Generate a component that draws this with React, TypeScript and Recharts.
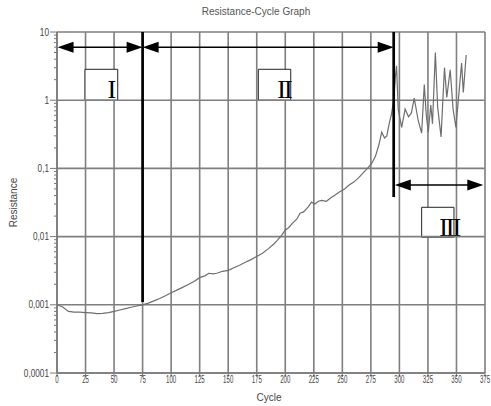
import React from 'react';
import { LineChart, Line, XAxis, YAxis, CartesianGrid, ReferenceLine, ReferenceArea } from 'recharts';

const cycles = [0, 5, 10, 15, 20, 25, 30, 35, 40, 45, 50, 55, 60, 65, 70, 75, 80, 85, 90, 95, 100, 105, 110, 115, 120, 125, 130, 133, 137, 140, 145, 150, 155, 160, 165, 170, 175, 180, 185, 190, 193, 197, 200, 203, 206, 210, 213, 216, 220, 223, 226, 229, 232, 236, 240, 244, 248, 252, 256, 260, 264, 268, 272, 276, 279, 282, 284.5, 287, 289, 291, 293, 295, 296.5, 297.5, 299, 302, 305, 308, 310.5, 313, 316.5, 319.5, 321.8, 323.5, 325.3, 327.5, 329, 331.5, 333.5, 336.5, 339.5, 341.5, 344.5, 347, 349.5, 351.5, 354.5, 356, 358.5];
const resistance = [0.001, 0.00093, 0.0008, 0.00078, 0.00078, 0.00077, 0.00076, 0.00074, 0.00075, 0.00077, 0.0008, 0.00084, 0.00088, 0.00092, 0.00096, 0.001, 0.00106, 0.00114, 0.00124, 0.00136, 0.0015, 0.00164, 0.0018, 0.00198, 0.0022, 0.0025, 0.00268, 0.0029, 0.00285, 0.0029, 0.0031, 0.0032, 0.0035, 0.0038, 0.0042, 0.0046, 0.0051, 0.0057, 0.0066, 0.0078, 0.0088, 0.0105, 0.0125, 0.0135, 0.0155, 0.018, 0.022, 0.023, 0.027, 0.032, 0.03, 0.033, 0.034, 0.033, 0.037, 0.041, 0.046, 0.05, 0.057, 0.063, 0.072, 0.085, 0.1, 0.12, 0.15, 0.22, 0.34, 0.28, 0.3, 0.45, 0.62, 1.0, 2.2, 3.2, 0.72, 0.4, 0.74, 0.57, 0.65, 1.07, 0.5, 0.33, 1.7, 0.62, 0.34, 0.85, 0.45, 5.0, 0.8, 0.29, 3.0, 1.1, 2.8, 0.75, 0.4, 0.95, 3.5, 1.3, 4.6];

const xTicks = [0, 25, 50, 75, 100, 125, 150, 175, 200, 225, 250, 275, 300, 325, 350, 375];
const yMajorTicks = [0.0001, 0.001, 0.01, 0.1, 1, 10];
const yMajorLabels = ['0,0001', '0,001', '0,01', '0,1', '1', '10'];
const yMinorMultipliers = [2, 3, 4, 5, 6, 7, 8, 9];

// annotations (data coordinates)
const phaseBoundaries = [
  { x: 75, yTop: 10, yBottom: 0.0011 },
  { x: 295, yTop: 10, yBottom: 0.038 },
];
const phaseArrows = [
  { x1: 0.5, x2: 75, y: 6 },
  { x1: 75, x2: 295, y: 6 },
  { x1: 296, x2: 373.5, y: 0.057 },
];
const phaseBoxes = [
  { label: 'I', x1: 24.5, x2: 53.2, y1: 1.0, y2: 2.84, textDx: 22.5, textDy: -2 },
  { label: 'II', x1: 176.4, x2: 204.8, y1: 1.0, y2: 2.84, textDx: 19, textDy: -2 },
  { label: 'III', x1: 319.5, x2: 347.8, y1: 0.0098, y2: 0.0269, textDx: 17.5, textDy: -1 },
];

const data = cycles.map((c, i) => ({ c, r: resistance[i] }));

const yTicksAll: number[] = [];
yMajorTicks.forEach((m, i) => {
  yTicksAll.push(m);
  if (i < yMajorTicks.length - 1) yMinorMultipliers.forEach((k) => yTicksAll.push(m * k));
});

const majorIndex = (v: number) => yMajorTicks.findIndex((m) => Math.abs(m - v) / m < 1e-6);

const TEXT = '#444';
const AXIS = '#7a7a7a';
const GRID = '#7f7f7f';
const FONT = '"Liberation Sans", Arial, sans-serif';

const YTick = (props: any) => {
  const { x, y, payload } = props;
  const idx = majorIndex(payload.value);
  const major = idx >= 0;
  const lab = major ? yMajorLabels[idx] : '';
  const len = lab.replace(',', '').length * 4.6 + (lab.includes(',') ? 2.2 : 0);
  return (
    <g>
      <line x1={x - (major ? 7 : 3)} x2={x} y1={y} y2={y} stroke={AXIS} strokeWidth={1} />
      {major && (
        <text x={x - 8} y={y} dy={3.5} textAnchor="end" fontSize={10} fontFamily={FONT} fill={TEXT}
          textLength={len} lengthAdjust="spacingAndGlyphs">{lab}</text>
      )}
    </g>
  );
};

const XTick = (props: any) => {
  const { x, y, payload } = props;
  const s = String(payload.value);
  return (
    <g>
      <line x1={x} x2={x} y1={y} y2={y + 4} stroke={AXIS} strokeWidth={1} />
      <text x={x} y={y + 10} textAnchor="middle" fontSize={10} fontFamily={FONT} fill={TEXT}
        textLength={s.length * 3.4} lengthAdjust="spacingAndGlyphs">{s}</text>
    </g>
  );
};

const arrowShape = (props: any) => {
  const { x1, y1, x2, y2 } = props;
  const h = 16;
  const w = 5.5;
  return (
    <g>
      <line x1={x1 + 4} y1={y1} x2={x2 - 4} y2={y2} stroke="#000" strokeWidth={1.5} />
      <polygon points={`${x1},${y1} ${x1 + h},${y1 - w} ${x1 + h},${y1 + w}`} fill="#000" />
      <polygon points={`${x2},${y2} ${x2 - h},${y2 - w} ${x2 - h},${y2 + w}`} fill="#000" />
    </g>
  );
};

export default function App() {
  return (
    <div style={{ position: 'absolute', left: 0, top: 0, width: 491, height: 406, background: '#fff' }}>
      <div style={{ position: 'absolute', left: 0, top: 5, width: 512, textAlign: 'center', fontSize: 10, lineHeight: '14px', fontFamily: FONT, color: '#555' }}>
        Resistance-Cycle Graph
      </div>
      <LineChart width={491} height={406} data={data} margin={{ top: 32, right: 6, bottom: 0, left: 0 }}>
        <CartesianGrid horizontal={false} stroke={GRID} strokeWidth={1.6} />
        {yMajorTicks.map((v) => (
          <ReferenceLine key={'h' + v} y={v} stroke={GRID} strokeWidth={1.6} />
        ))}
        <XAxis dataKey="c" type="number" domain={[0, 375]} ticks={xTicks} interval={0} height={33}
          tickSize={0} tickMargin={0} tickLine={false} tick={<XTick />} stroke={AXIS} axisLine={{ stroke: AXIS, strokeWidth: 1.5 }}
          label={{ content: (p: any) => (
            <text x={p.viewBox.x + p.viewBox.width / 2 - 2} y={p.viewBox.y + 28} textAnchor="middle" fontSize={10} fontFamily={FONT} fill={TEXT}>Cycle</text>
          ) }} />
        <YAxis type="number" scale="log" domain={[0.0001, 10]} ticks={yTicksAll} interval={0} width={57}
          allowDataOverflow tickSize={0} tickMargin={0} tickLine={false} tick={<YTick />} axisLine={{ stroke: AXIS, strokeWidth: 1.5 }}
          label={{ content: (p: any) => {
            const cx = p.viewBox.x + 13;
            const cy = p.viewBox.y + p.viewBox.height / 2;
            return (
              <text x={cx} y={cy} transform={`rotate(-90 ${cx} ${cy})`} textAnchor="middle" dominantBaseline="central" fontSize={10} fontFamily={FONT} fill={TEXT}>Resistance</text>
            );
          } }} />
        <Line type="linear" dataKey="r" stroke="#6e6e6e" strokeWidth={1.2} dot={false} isAnimationActive={false} />
        {phaseBoundaries.map((b, i) => (
          <ReferenceLine key={'b' + i} segment={[{ x: b.x, y: b.yTop }, { x: b.x, y: b.yBottom }]} stroke="#000" strokeWidth={2.7} />
        ))}
        {phaseArrows.map((a, i) => (
          <ReferenceLine key={'a' + i} segment={[{ x: a.x1, y: a.y }, { x: a.x2, y: a.y }]} shape={arrowShape} />
        ))}
        {phaseBoxes.map((b, i) => (
          <ReferenceArea key={'r' + i} x1={b.x1} x2={b.x2} y1={b.y1} y2={b.y2} fill="#fff" fillOpacity={1} stroke="#222" strokeWidth={1}
            label={(p: any) => (
              <text x={p.viewBox.x + b.textDx} y={p.viewBox.y + p.viewBox.height + b.textDy} fontSize={26} fontFamily='"Liberation Serif", "Times New Roman", serif' fill="#000" letterSpacing={-2}>{b.label}</text>
            )} />
        ))}
      </LineChart>
    </div>
  );
}
